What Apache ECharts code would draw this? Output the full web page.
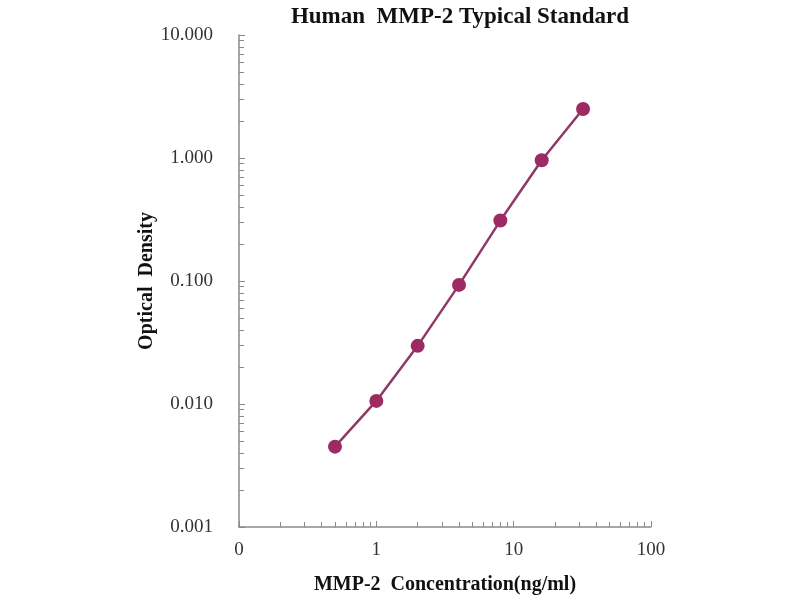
<!DOCTYPE html>
<html style="height: 100%">
<head>
    <meta charset="utf-8">
</head>
<body style="height: 100%; margin: 0; background: #fff">
    <div id="main" style="width: 800px; height: 600px"></div>
    <script type="text/javascript" src="https://cdn.jsdelivr.net/npm/echarts@6/dist/echarts.min.js"></script>
    <script type="text/javascript">
        // standard curve readings (ng/ml vs OD)
        var concentrations = [0.5, 1, 2, 4, 8, 16, 32];
        var densities = [0.0045, 0.0106, 0.0297, 0.093, 0.31, 0.96, 2.5];

        var points = [];
        for (var i = 0; i < concentrations.length; i++) {
            points.push([concentrations[i], densities[i]]);
        }

        var chart = echarts.init(document.getElementById('main'));
        var serif = '"Liberation Serif", "Times New Roman", serif';

        var option = {
            backgroundColor: '#fff',
            animation: false,
            title: {
                text: 'Human  MMP-2 Typical Standard',
                left: 455,
                top: 1,
                textAlign: 'center',
                textStyle: {
                    fontFamily: serif,
                    fontSize: 23,
                    fontWeight: 'bold',
                    color: '#111'
                }
            },
            grid: {
                left: 239,
                right: 149,
                top: 35,
                bottom: 71
            },
            xAxis: {
                type: 'log',
                logBase: 10,
                min: 0.1,
                max: 100,
                name: 'MMP-2  Concentration(ng/ml)',
                nameLocation: 'middle',
                nameGap: 48,
                nameTextStyle: {
                    fontFamily: serif,
                    fontSize: 20,
                    fontWeight: 'bold',
                    color: '#111'
                },
                axisLine: { lineStyle: { color: '#8a8a8a', width: 1.5 } },
                axisTick: { inside: true, length: 6, lineStyle: { color: '#8a8a8a' } },
                minorTick: { show: true, splitNumber: 9, length: 5, lineStyle: { color: '#8a8a8a' } },
                splitLine: { show: false },
                axisLabel: {
                    margin: 14,
                    fontFamily: serif,
                    fontSize: 19,
                    color: '#333',
                    formatter: function (v) { return String(Math.round(v)); }
                }
            },
            yAxis: {
                type: 'log',
                logBase: 10,
                min: 0.001,
                max: 10,
                name: 'Optical  Density',
                nameLocation: 'middle',
                nameGap: 82,
                nameMoveOverlap: false,
                nameTextStyle: {
                    fontFamily: serif,
                    fontSize: 20,
                    fontWeight: 'bold',
                    color: '#111'
                },
                axisLine: { show: true, lineStyle: { color: '#8a8a8a', width: 1.5 } },
                axisTick: { show: true, inside: true, length: 6, lineStyle: { color: '#8a8a8a' } },
                minorTick: { show: true, splitNumber: 9, length: 5, lineStyle: { color: '#8a8a8a' } },
                splitLine: { show: false },
                axisLabel: {
                    margin: 26,
                    fontFamily: serif,
                    fontSize: 19,
                    color: '#333',
                    formatter: function (v) { return v.toFixed(3); }
                }
            },
            series: [
                {
                    type: 'line',
                    data: points,
                    smooth: false,
                    symbol: 'circle',
                    symbolSize: 14,
                    lineStyle: { color: '#8e3a68', width: 2.5 },
                    itemStyle: { color: '#9e2a62' }
                }
            ]
        };

        chart.setOption(option);
    </script>
</body>
</html>
